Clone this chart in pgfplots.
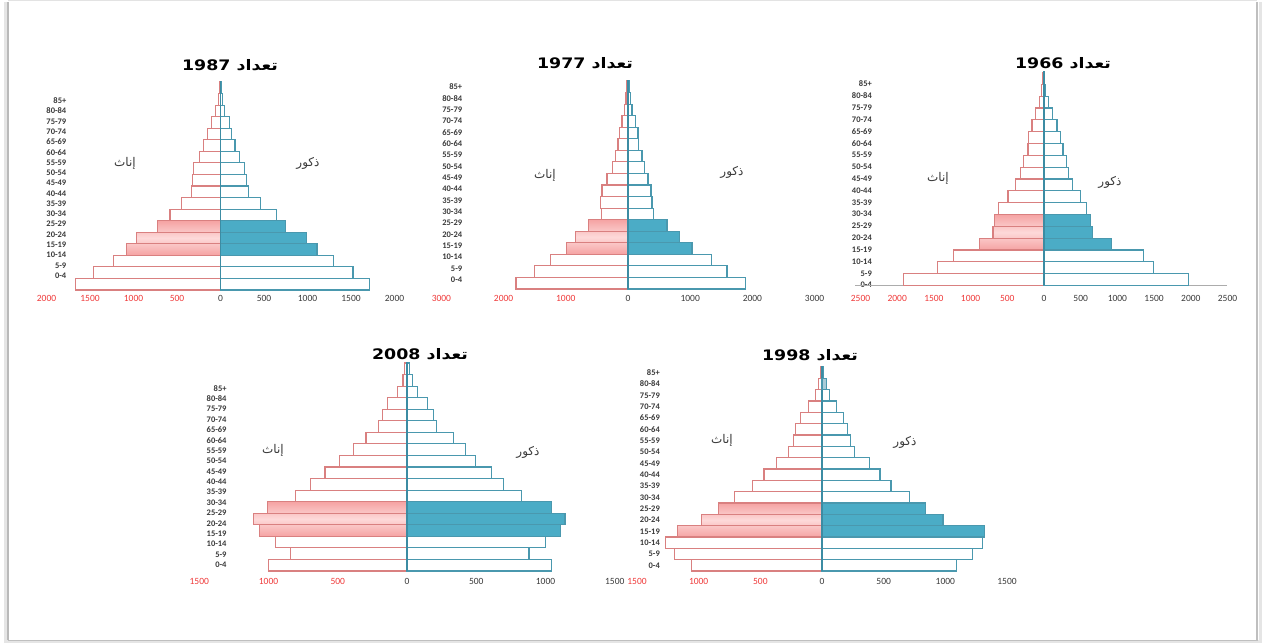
\documentclass[border=0pt]{standalone}
\usepackage{pgfplots}
\pgfplotsset{compat=1.18}
\usepackage{pgfplotstable}
\usepackage{fontspec}
\setmainfont{Carlito}
\newfontfamily\arabicfont[Script=Arabic]{DejaVu Sans}
\TeXXeTstate=1
\definecolor{femline}{HTML}{D98080}
\definecolor{pinkD}{HTML}{F5A3A3}
\definecolor{pinkL}{HTML}{FDD9D9}
\definecolor{maleline}{HTML}{4A98AE}
\definecolor{malefill}{HTML}{4BACC6}
\definecolor{malelight}{HTML}{A9CCD8}
\definecolor{zline}{HTML}{3C8CA3}
\definecolor{tickred}{HTML}{F03A3A}
\definecolor{labgray}{HTML}{3A3A3A}
\newcommand\R[1]{\textcolor{tickred}{#1}}

% columns: a = row index (0 = 0-4 ... 17 = 85+), m = males, f = females
\pgfplotstableread{
a m f
0 1709 1663
1 1523 1461
2 1302 1229
3 1109 1085
4 984 969
5 748 725
6 640 581
7 457 453
8 322 329
9 295 318
10 271 306
11 217 240
12 167 194
13 128 147
14 101 105
15 50 54
16 23 27
17 15 15
}\tA
\pgfplotstableread{
a m f
0 1886 1801
1 1592 1506
2 1340 1249
3 1029 991
4 825 847
5 627 632
6 413 429
7 386 445
8 370 418
9 322 338
10 263 247
11 225 204
12 171 161
13 161 134
14 118 96
15 64 54
16 38 32
17 21 16
}\tB
\pgfplotstableread{
a m f
0 1964 1914
1 1486 1445
2 1350 1232
3 918 877
4 659 695
5 632 673
6 577 614
7 495 491
8 382 391
9 336 318
10 305 277
11 259 218
12 223 209
13 177 164
14 114 118
15 55 59
16 23 32
17 9 14
}\tC
\pgfplotstableread{
a m f
0 1044 1000
1 881 842
2 1002 951
3 1107 1068
4 1141 1109
5 1044 1005
6 825 806
7 699 697
8 607 592
9 493 485
10 420 388
11 335 296
12 214 204
13 189 175
14 146 138
15 73 66
16 39 29
17 19 17
}\tD
\pgfplotstableread{
a m f
0 1089 1056
1 1223 1196
2 1298 1269
3 1317 1169
4 981 976
5 841 841
6 707 712
7 559 565
8 470 470
9 384 368
10 261 269
11 234 234
12 207 215
13 175 175
14 116 108
15 62 54
16 40 27
17 13 13
}\tE

\pgfplotsset{
  pyr/.style={scale only axis, anchor=south west, ymin=-0.5, ymax=17.5,
    axis line style={draw=none}, major tick length=0pt, tick style={draw=none},
    clip=false,
    /pgf/number format/assume math mode=true,
    yticklabels={0-4,5-9,10-14,15-19,20-24,25-29,30-34,35-39,40-44,45-49,50-54,55-59,60-64,65-69,70-74,75-79,80-84,85+},
    yticklabel style={anchor=east, inner sep=0pt, font=\fontsize{8.5}{9}\selectfont\bfseries, text=labgray},
    xticklabel style={anchor=center, inner sep=0pt, font=\fontsize{9.5}{10}\selectfont, text=labgray},
  },
  bbase/.style={xbar, bar width=1, bar shift=0pt, line width=1.1pt},
  fopen/.style={bbase, draw=femline, fill=white},
  ffill/.style={bbase, draw=femline, top color=pinkD, bottom color=pinkD, middle color=pinkL},
  mopen/.style={bbase, draw=maleline, fill=white},
  mfill/.style={bbase, draw=maleline, fill=malefill},
  zl/.style={zline, line width=1.6pt, no marks},
}

\newcommand\pyramid[1]{%
  \addplot[fopen] table[x expr=-\thisrow{f}, y=a] {#1};
  \addplot[ffill, restrict y to domain=2.5:5.5] table[x expr=-\thisrow{f}, y=a] {#1};
  \addplot[mopen] table[x=m, y=a] {#1};
  \addplot[mfill, restrict y to domain=2.5:5.5] table[x=m, y=a] {#1};
  \addplot[zl] coordinates {(0,-0.5) (0,17.6)};
}

\begin{document}
\begin{tikzpicture}
\path[use as bounding box] (0pt,0pt) rectangle (1263pt,644pt);
\fill[white] (0pt,0pt) rectangle (1263pt,644pt);
% slide frame
\draw[gray!22, line width=1pt] (8pt,643pt) -- (1257pt,643pt);
\draw[gray!20, line width=3pt] (5pt,642pt) -- (5pt,2pt) -- (1260pt,2pt) -- (1260pt,642pt);
\draw[gray!55, line width=1.6pt] (8pt,642pt) -- (8pt,3.5pt);
\draw[gray!50, line width=1.6pt] (8pt,3.5pt) -- (1257pt,3.5pt) -- (1257pt,642pt);

% ---------- 1987 ----------
\begin{axis}[pyr, at={(46.5pt,354pt)}, width=348pt, height=208pt,
  xmin=-2000, xmax=2000, xtick={-2000,-1500,...,2000},
  xticklabels={\R{2000},\R{1500},\R{1000},\R{500},0,500,1000,1500,2000},
  xticklabel style={yshift=-8pt},
  ytick={0.735,1.626,2.517,3.408,4.299,5.19,6.081,6.972,7.863,8.754,9.645,10.536,11.427,12.318,13.209,14.1,14.991,15.882},
  yticklabel style={xshift=20pt}]
\pyramid{\tA}
\end{axis}

% ---------- 1977 ----------
\begin{axis}[pyr, at={(441.4pt,355pt)}, width=373.2pt, height=208pt,
  xmin=-3000, xmax=3000, xtick={-3000,-2000,...,3000},
  xticklabels={\R{3000},\R{2000},\R{1000},0,1000,2000,3000},
  xticklabel style={yshift=-9pt},
  ytick={0.30,1.282,2.264,3.246,4.228,5.21,6.192,7.174,8.156,9.138,10.12,11.102,12.084,13.066,14.048,15.03,16.012,16.994},
  yticklabel style={xshift=21pt}]
\pyramid{\tB}
\end{axis}

% ---------- 1966 ----------
\begin{axis}[pyr, at={(860.5pt,358.5pt)}, width=367pt, height=213pt,
  xmin=-2500, xmax=2500, xtick={-2500,-2000,...,2500},
  xticklabels={\R{2500},\R{2000},\R{1500},\R{1000},\R{500},0,500,1000,1500,2000,2500},
  xticklabel style={yshift=-12.5pt},
  ytick={-0.47,0.53,1.53,2.53,3.53,4.53,5.53,6.53,7.53,8.53,9.53,10.53,11.53,12.53,13.53,14.53,15.53,16.53},
  yticklabel style={xshift=11.5pt}]
\addplot[gray!65, line width=0.8pt, no marks] coordinates {(-2575,-0.5) (2495,-0.5)};
\pyramid{\tC}
\end{axis}

% ---------- 2008 ----------
\begin{axis}[pyr, at={(199.25pt,73pt)}, width=415.5pt, height=208pt,
  xmin=-1500, xmax=1500, xtick={-1500,-1000,...,1500},
  xticklabels={\R{1500},\R{1000},\R{500},0,500,1000,1500},
  xticklabel style={yshift=-10.7pt},
  ytick={0.02,0.92,1.82,2.72,3.62,4.52,5.42,6.32,7.22,8.12,9.02,9.92,10.82,11.72,12.62,13.52,14.42,15.32},
  yticklabel style={xshift=27.5pt}]
\pyramid{\tD}
\end{axis}

% ---------- 1998 ----------
\begin{axis}[pyr, at={(637pt,73pt)}, width=370pt, height=204pt,
  xmin=-1500, xmax=1500, xtick={-1500,-1000,...,1500},
  xticklabels={\R{1500},\R{1000},\R{500},0,500,1000,1500},
  xticklabel style={yshift=-10.7pt},
  ytick={0,1,...,17},
  yticklabel style={xshift=23pt}]
\pyramid{\tE}
\addplot[bbase, draw=maleline, fill=malelight, restrict y to domain=15.5:16.5] table[x=m, y=a] {\tE};
\end{axis}

% titles
\begin{scope}[every node/.style={font=\arabicfont\bfseries\fontsize{14.5}{17}\selectfont, text=black, inner sep=0pt, xscale=1.2}]
\node at (230pt,579pt) {\beginR تعداد \beginL1987\endL\endR};
\node at (585pt,581pt) {\beginR تعداد \beginL1977\endL\endR};
\node at (1063pt,581pt) {\beginR تعداد \beginL1966\endL\endR};
\node at (420pt,290pt) {\beginR تعداد \beginL2008\endL\endR};
\node at (810pt,289pt) {\beginR تعداد \beginL1998\endL\endR};
\end{scope}
% side labels
\begin{scope}[every node/.style={font=\arabicfont\fontsize{12}{14}\selectfont, text=labgray, inner sep=0pt}]
\node at (125pt,481pt) {\beginR إناث\endR};
\node at (308pt,481pt) {\beginR ذكور\endR};
\node at (545pt,469pt) {\beginR إناث\endR};
\node at (732pt,472pt) {\beginR ذكور\endR};
\node at (938pt,466pt) {\beginR إناث\endR};
\node at (1110pt,462pt) {\beginR ذكور\endR};
\node at (273pt,194pt) {\beginR إناث\endR};
\node at (528pt,192pt) {\beginR ذكور\endR};
\node at (722pt,204pt) {\beginR إناث\endR};
\node at (905pt,202pt) {\beginR ذكور\endR};
\end{scope}
\end{tikzpicture}
\end{document}
